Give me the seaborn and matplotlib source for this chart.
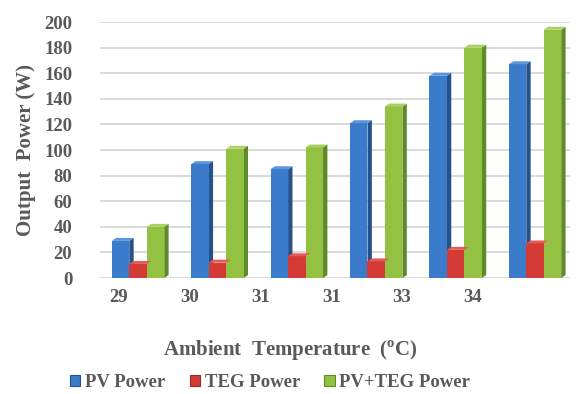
import numpy as np
import pandas as pd
import matplotlib
matplotlib.use("Agg")
import matplotlib.pyplot as plt
import seaborn as sns
from matplotlib.patches import Polygon, Rectangle

temps = ["29", "30", "31", "31 ", "33", "34"]
tick_labels = ["29", "30", "31", "31", "33", "34"]
pv_power = [29, 89, 85, 121, 158, 167]
teg_power = [11, 12, 17, 13, 22, 27]
total_power = [40, 101, 102, 134, 180, 194]
series_names = ["PV Power", "TEG Power", "PV+TEG Power"]
y_ticks = [0, 20, 40, 60, 80, 100, 120, 140, 160, 180, 200]

front_colors = ["#3B7BCC", "#D43B35", "#93C243"]
side_colors = ["#27518A", "#9A2824", "#5E8A2A"]
top_colors = ["#5A95DD", "#E45A55", "#A9D15E"]

df = pd.DataFrame({
    "temp": temps * 3,
    "power": pv_power + teg_power + total_power,
    "series": [series_names[0]] * 6 + [series_names[1]] * 6 + [series_names[2]] * 6,
})

sns.set_theme(style="white")
plt.rcParams["font.family"] = ["Liberation Serif", "DejaVu Serif"]
plt.rcParams["mathtext.fontset"] = "custom"
plt.rcParams["mathtext.rm"] = "Liberation Serif:bold"
plt.rcParams["mathtext.bf"] = "Liberation Serif:bold"

text_color = "#595959"

fig = plt.figure(figsize=(5.81, 3.94), dpi=100)
ax = fig.add_axes([0.172, 0.2944, 0.809, 0.6497])

sns.barplot(data=df, x="temp", y="power", hue="series", order=temps,
            hue_order=series_names, palette=front_colors, width=0.66,
            saturation=1, ax=ax, legend=False, zorder=3, linewidth=0)

ax.set_xlim(-0.48, 5.44)
ax.set_ylim(0, 200)

# pseudo-3D side and top faces derived from each bar's geometry
dx = 0.055  # depth in x data units
dy = 2.3    # depth in y data units
for i, cont in enumerate(ax.containers):
    for bar in cont:
        x0 = bar.get_x()
        w = bar.get_width()
        h = bar.get_height()
        x1 = x0 + w
        side = Polygon([[x1, 0], [x1 + dx, dy], [x1 + dx, h + dy], [x1, h]],
                       closed=True, facecolor=side_colors[i], edgecolor="none", zorder=2.9 + 0.01 * i)
        top = Polygon([[x0, h], [x0 + dx, h + dy], [x1 + dx, h + dy], [x1, h]],
                      closed=True, facecolor=top_colors[i], edgecolor="none", zorder=3.1 + 0.01 * i)
        ax.add_patch(side)
        ax.add_patch(top)
        bar.set_zorder(3 + 0.01 * i)

ax.set_yticks(y_ticks)
ax.yaxis.grid(True, color="#D9D9D9", linewidth=1.4, zorder=0)
ax.xaxis.grid(False)
for s in ax.spines.values():
    s.set_visible(False)
ax.tick_params(axis="both", length=0, labelsize=13.5, labelcolor=text_color)
for lab in ax.get_yticklabels():
    lab.set_fontweight("bold")
ax.tick_params(axis="y", pad=20)

ax.set_xticks(np.arange(6) * 0.894 - 0.25)
ax.set_xticklabels(tick_labels, fontweight="bold", fontsize=13.5, color=text_color)
ax.tick_params(axis="x", pad=8)

ax.set_xlabel(r"Ambient  Temperature  ($^{\mathrm{o}}$C)", fontsize=15, fontweight="bold",
              color=text_color)
ax.xaxis.set_label_coords(0.406, -0.235)
ax.set_ylabel("Output  Power (W)", fontsize=15, fontweight="bold", color=text_color, labelpad=6)

handles = [Rectangle((0, 0), 1, 1, facecolor=front_colors[i], edgecolor=side_colors[i], linewidth=0.8)
           for i in range(3)]
leg = fig.legend(handles, series_names, loc="center", bbox_to_anchor=(0.465, 0.028), ncol=3,
                 frameon=False, handlelength=0.55, handleheight=0.55, handletextpad=0.25,
                 columnspacing=1.3, prop={"family": "Liberation Serif", "weight": "bold", "size": 13.5})
for t in leg.get_texts():
    t.set_color(text_color)

fig.savefig("out.png", dpi=100)
